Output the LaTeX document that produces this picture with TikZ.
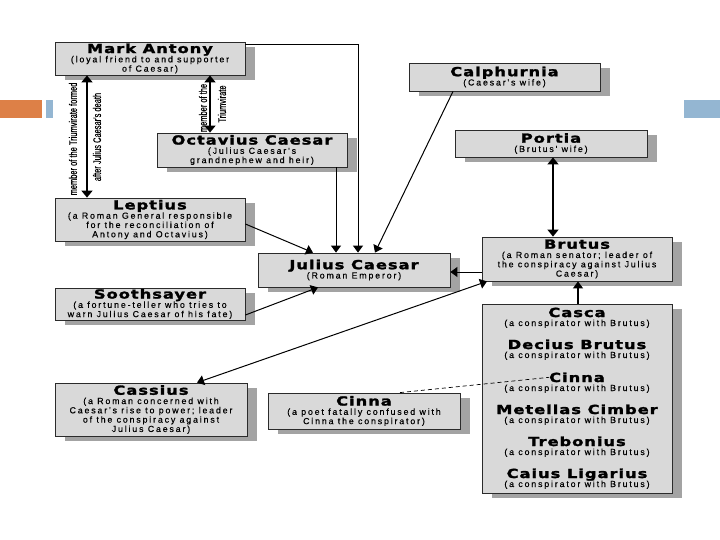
\documentclass[tikz,border=0pt]{standalone}
\usepackage{fontspec}
\setmainfont{Liberation Sans}
\newfontfamily\namefont[FakeStretch=1.3,LetterSpace=8,FakeBold=2]{DejaVu Sans}
\newfontfamily\subfont[LetterSpace=21,FakeBold=0.4]{Liberation Sans}
\newfontfamily\condfont[FakeStretch=0.68,FakeBold=0.5]{Liberation Sans}
\usetikzlibrary{shadows,arrows.meta}
\definecolor{boxfill}{HTML}{D9D9D9}
\definecolor{shadowgray}{HTML}{A3A3A3}
\definecolor{boxline}{HTML}{2B2B2B}
\definecolor{orangebar}{HTML}{DD8047}
\definecolor{bluebar}{HTML}{94B6D2}
\newcommand\nm[1]{{\namefont\bfseries\fontsize{12.5}{13}\selectfont #1}}
\newcommand\nms[1]{{\namefont\bfseries\fontsize{12.5}{13}\selectfont #1}}
\begin{document}
\begin{tikzpicture}[x=1pt,y=-1pt,
  box/.style={draw=boxline, line width=0.8pt, fill=boxfill, inner sep=0pt, align=center,
    font=\subfont\fontsize{8.8}{9.3}\selectfont,
    drop shadow={shadow xshift=10pt, shadow yshift=-5pt, fill=shadowgray, opacity=1}},
  plain/.style={inner sep=0pt, anchor=base, font=\subfont\fontsize{8.8}{9.3}\selectfont},
  vlabel/.style={inner sep=0pt, rotate=90, font=\condfont\fontsize{11}{12}\selectfont},
  arr/.style={-{Triangle[length=7pt,width=10pt]}, line width=1pt},
  dbl/.style={{Triangle[length=7pt,width=11pt]}-{Triangle[length=7pt,width=11pt]}, line width=1.6pt},
  conn/.style={line width=1pt}]
\useasboundingbox (0,0) rectangle (720,540);
% decorative bars
\fill[orangebar] (0,100) rectangle (42,118);
\fill[bluebar] (46,100) rectangle (53,118);
\fill[bluebar] (684,100) rectangle (720,118);
% helper coordinates
\foreach \xx in {87,197,210,313,318,336,358,375,400,453,487,553,578}{\coordinate (c\xx) at (\xx,0);}
\foreach \yy in {45,224,272,315}{\coordinate (r\yy) at (0,\yy);}
% boxes
\node[box, minimum width=190pt, minimum height=33pt] (ma) at (150,58.5)
  {\nm{Mark Antony}\\(loyal friend to and supporter\\of Caesar)};
\node[box, minimum width=190pt, minimum height=34pt] (oc) at (252,150)
  {\nm{Octavius Caesar}\\(Julius Caesar's\\grandnephew and heir)};
\node[box, minimum width=190pt, minimum height=43pt] (le) at (150,219.5)
  {\nm{Leptius}\\(a Roman General responsible\\for the reconciliation of\\Antony and Octavius)};
\node[box, minimum width=192pt, minimum height=34pt] (jc) at (354,270)
  {\nms{Julius Caesar}\\(Roman Emperor)};
\node[box, minimum width=190pt, minimum height=32pt] (so) at (150,304)
  {\nm{Soothsayer}\\(a fortune-teller who tries to\\warn Julius Caesar of his fate)};
\node[box, minimum width=191pt, minimum height=28pt] (cal) at (504.5,77)
  {\nm{Calphurnia}\\(Caesar's wife)};
\node[box, minimum width=192pt, minimum height=27pt] (po) at (551,143.5)
  {\nm{Portia}\\(Brutus' wife)};
\node[box, minimum width=190pt, minimum height=44pt] (br) at (577,259)
  {\nms{Brutus}\\(a Roman senator; leader of\\the conspiracy against Julius\\Caesar)};
\node[box, minimum width=190pt, minimum height=189pt] (consp) at (577,398.5) {};
\node[box, minimum width=192pt, minimum height=53pt] (cas) at (151,409.5)
  {\nm{Cassius}\\(a Roman concerned with\\Caesar's rise to power; leader\\of the conspiracy against\\Julius Caesar)};
\node[box, minimum width=192pt, minimum height=36pt] (ci) at (364,411)
  {\nm{Cinna}\\(a poet fatally confused with\\Cinna the conspirator)};
% conspirators
\node[plain] (casca) at (577,317) {\nms{Casca}};
\node[plain] (cascas) at (577,326) {(a conspirator with Brutus)};
\node[plain] (decius) at (577,349) {\nms{Decius Brutus}};
\node[plain] (deciuss) at (577,358) {(a conspirator with Brutus)};
\node[plain] (cinna2) at (577,382) {\nms{Cinna}};
\node[plain] (cinna2s) at (577,391) {(a conspirator with Brutus)};
\node[plain] (metellus) at (577,414) {\nms{Metellas Cimber}};
\node[plain] (metelluss) at (577,423) {(a conspirator with Brutus)};
\node[plain] (treb) at (577,446) {\nms{Trebonius}};
\node[plain] (trebs) at (577,455) {(a conspirator with Brutus)};
\node[plain] (caius) at (577,478) {\nms{Caius Ligarius}};
\node[plain] (caiuss) at (577,487) {(a conspirator with Brutus)};
% rotated labels
\node[vlabel] (l1) at (73,139) {member of the Triumvirate formed};
\node[vlabel] (l2) at (97,137) {after Julius Caesar's death};
\node[vlabel] (l3) at (203,108) {member of the};
\node[vlabel] (l4) at (222,104) {Triumvirate};
% connectors
\draw[dbl] (ma.south -| c87) -- (le.north -| c87);
\draw[dbl] (ma.south -| c210) -- (oc.north -| c210);
\draw[arr] (ma.east |- r45) -| (jc.north -| c358);
\draw[arr] (oc.south -| c336) -- (jc.north -| c336);
\draw[arr] (le.east |- r224) -- (jc.north -| c313);
\draw[arr] (so.east |- r315) -- (jc.south -| c318);
\draw[arr] (cal.south -| c453) -- (jc.north -| c375);
\draw[dbl, line width=1.2pt] (po.south -| c553) -- (br.north -| c553);
\draw[arr] (br.west |- r272) -- (jc.east |- r272);
\draw[arr, line width=1.2pt] (consp.north -| c578) -- (br.south -| c578);
\draw[arr, {Triangle[length=7pt,width=10pt]}-{Triangle[length=7pt,width=10pt]}] (br.south -| c487) -- (cas.north -| c197);
\draw[line width=0.7pt, dash pattern=on 4pt off 3pt] (ci.north -| c400) -- (cinna2.west);
\end{tikzpicture}
\end{document}
